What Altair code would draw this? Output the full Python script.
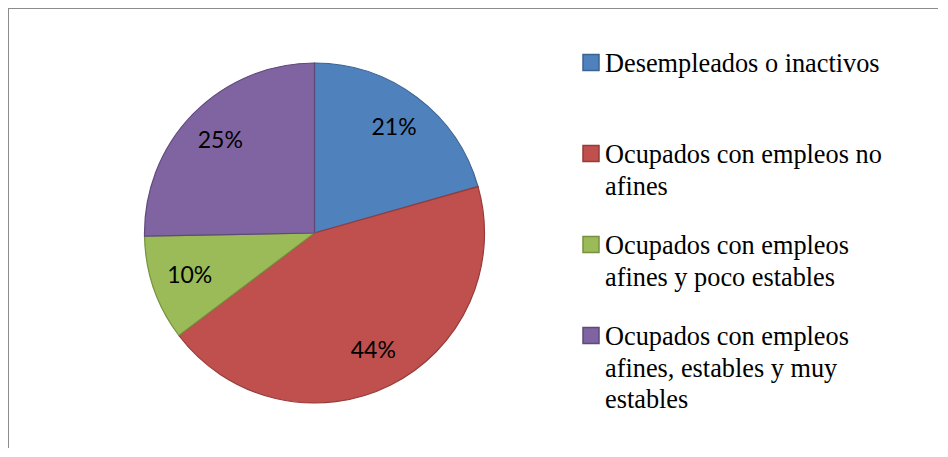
import altair as alt
import pandas as pd

categories = [
    "Desempleados o inactivos",
    "Ocupados con empleos no afines",
    "Ocupados con empleos afines y poco estables",
    "Ocupados con empleos afines, estables y muy estables",
]
legend_lines = [
    "Desempleados o inactivos",
    "Ocupados con empleos no\nafines",
    "Ocupados con empleos\nafines y poco estables",
    "Ocupados con empleos\nafines, estables y muy\nestables",
]
values = [20.6, 44.1, 10.0, 25.3]
labels = ["21%", "44%", "10%", "25%"]
fills = ["#4F81BD", "#C0504D", "#9BBB59", "#8064A2"]
strokes = ["#3A6393", "#953B39", "#77913F", "#5E4A7A"]

df = pd.DataFrame({
    "cat": categories,
    "legend": legend_lines,
    "value": values,
    "label": labels,
    "idx": list(range(len(categories))),
})

cx, cy = 306.5, 225
R = 170

base = alt.Chart(df).encode(
    theta=alt.Theta("value:Q", stack=True),
    order=alt.Order("idx:Q", sort="ascending"),
)

pie = base.mark_arc(radius=R, strokeWidth=1.2).encode(
    x=alt.value(cx),
    y=alt.value(cy),
    fill=alt.Fill("cat:N", scale=alt.Scale(domain=categories, range=fills), legend=None),
    stroke=alt.Stroke("cat:N", scale=alt.Scale(domain=categories, range=strokes), legend=None),
)

pct = base.mark_text(radius=132, font="Lato", fontSize=23, color="#000000",
                     align="center", baseline="middle").encode(
    x=alt.value(cx),
    y=alt.value(cy),
    text="label:N",
)

ly = alt.Y("cat:N", scale=alt.Scale(domain=categories, type="point", range=[64, 337], padding=0), axis=None)

leg_sym = alt.Chart(df).mark_square(size=256, yOffset=-9.5, strokeWidth=1.5, opacity=1).encode(
    x=alt.value(583),
    y=ly,
    fill=alt.Fill("cat:N", scale=alt.Scale(domain=categories, range=fills), legend=None),
    stroke=alt.Stroke("cat:N", scale=alt.Scale(domain=categories, range=strokes), legend=None),
)

leg_txt = alt.Chart(df).mark_text(
    align="left", baseline="alphabetic", font="Liberation Serif", fontSize=26.3,
    lineBreak="\n", lineHeight=31.5, color="#000000",
).encode(
    x=alt.value(597),
    y=ly,
    text="legend:N",
)

frame_left = alt.Chart(df).mark_rule(color="#8C8C8C", strokeWidth=2).encode(
    x=alt.value(0), y=alt.value(0), y2=alt.value(440)
)
frame_top = alt.Chart(df).mark_rule(color="#8C8C8C", strokeWidth=2).encode(
    y=alt.value(0), x=alt.value(0), x2=alt.value(930)
)

chart = alt.layer(pie, pct, leg_sym, leg_txt, frame_left, frame_top).properties(
    width=930, height=440, padding=0,
    autosize=alt.AutoSizeParams(type="none"),
).configure_view(
    strokeWidth=0, stroke="transparent",
).configure(background="white")

chart.save("out.html", embed_options={"renderer": "svg", "actions": False})
